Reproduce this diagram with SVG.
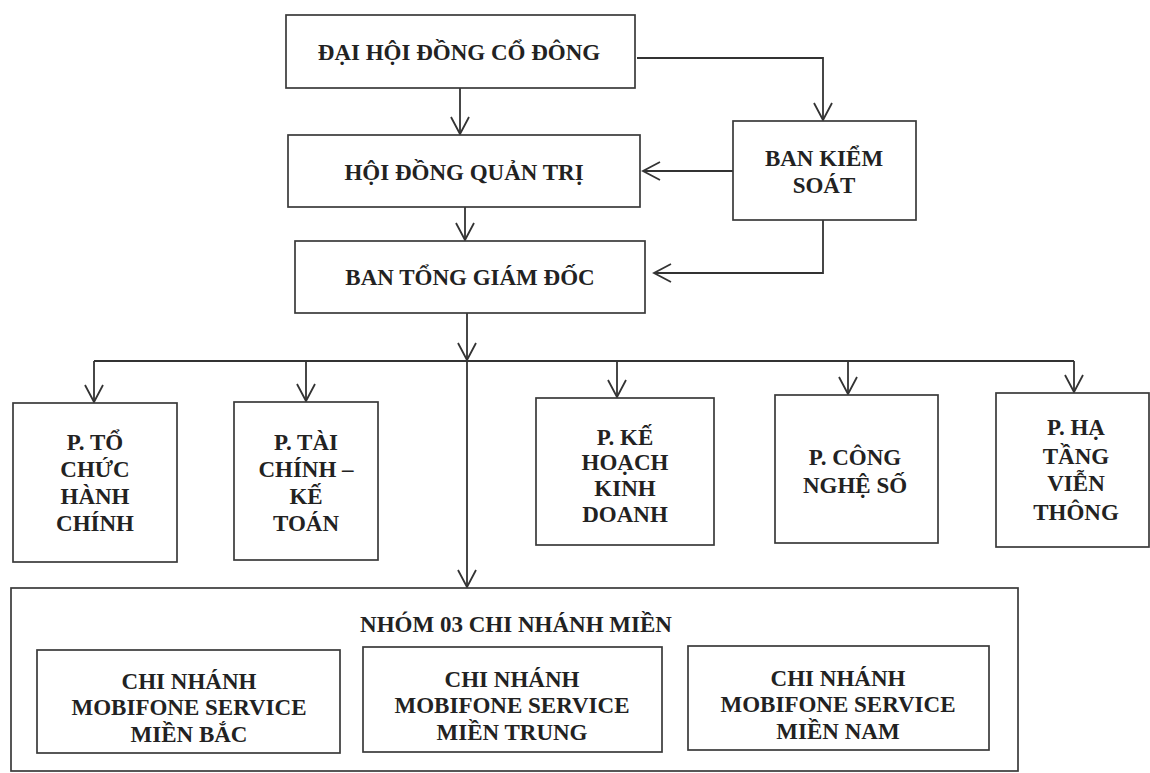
<svg xmlns="http://www.w3.org/2000/svg" width="1150" height="773" viewBox="0 0 1150 773">
<style>
.box{fill:#fff;stroke:#3a3a3a;stroke-width:1.7}
.t{font-family:"Liberation Serif","Times New Roman",serif;font-weight:bold;font-size:23px;fill:#222;text-anchor:middle}
.c{fill:none;stroke:#333;stroke-width:1.8}
</style>
<defs>
<marker id="ah" markerUnits="userSpaceOnUse" markerWidth="24" markerHeight="24" viewBox="-20 -12 24 24" refX="0" refY="0" orient="auto">
<path d="M-17,-9 L0,0 L-17,9" fill="none" stroke="#333" stroke-width="1.8"/>
</marker>
</defs>
<rect width="1150" height="773" fill="#fff"/>
<g id="connectors" class="c">
<path class="c" d="M460,88 V134" marker-end="url(#ah)"/>
<path class="c" d="M637,58 H823 V120" marker-end="url(#ah)"/>
<path class="c" d="M733,171 H643" marker-end="url(#ah)"/>
<path class="c" d="M465,207 V240" marker-end="url(#ah)"/>
<path class="c" d="M823,220 V273 H654" marker-end="url(#ah)"/>
<path class="c" d="M467,313 V360" marker-end="url(#ah)"/>
<path class="c" d="M94,361 H1074"/>
<path class="c" d="M94,361 V402" marker-end="url(#ah)"/>
<path class="c" d="M306,361 V401" marker-end="url(#ah)"/>
<path class="c" d="M617,361 V397" marker-end="url(#ah)"/>
<path class="c" d="M848,361 V394" marker-end="url(#ah)"/>
<path class="c" d="M1074,361 V392" marker-end="url(#ah)"/>
<path class="c" d="M467,361 V587" marker-end="url(#ah)"/>
</g>
<g id="dhdcd">
<rect class="box" x="286" y="15" width="349" height="73"/>
<text class="t" x="459" y="60">ĐẠI HỘI ĐỒNG CỔ ĐÔNG</text>
</g>
<g id="hdqt">
<rect class="box" x="288" y="135" width="352" height="72"/>
<text class="t" x="464" y="180">HỘI ĐỒNG QUẢN TRỊ</text>
</g>
<g id="bks">
<rect class="box" x="733" y="121" width="183" height="99"/>
<text class="t" x="824" y="166">BAN KIỂM</text>
<text class="t" x="824" y="193">SOÁT</text>
</g>
<g id="btgd">
<rect class="box" x="295" y="241" width="350" height="72"/>
<text class="t" x="470" y="285">BAN TỔNG GIÁM ĐỐC</text>
</g>
<g id="p-tchc">
<rect class="box" x="13" y="403" width="164" height="159"/>
<text class="t" x="95" y="450">P. TỔ</text>
<text class="t" x="95" y="477">CHỨC</text>
<text class="t" x="95" y="504">HÀNH</text>
<text class="t" x="95" y="531">CHÍNH</text>
</g>
<g id="p-tckt">
<rect class="box" x="234" y="402" width="144" height="158"/>
<text class="t" x="306" y="450">P. TÀI</text>
<text class="t" x="306" y="477">CHÍNH –</text>
<text class="t" x="306" y="504">KẾ</text>
<text class="t" x="306" y="531">TOÁN</text>
</g>
<g id="p-khkd">
<rect class="box" x="536" y="398" width="178" height="147"/>
<text class="t" x="625" y="445">P. KẾ</text>
<text class="t" x="625" y="470">HOẠCH</text>
<text class="t" x="625" y="496">KINH</text>
<text class="t" x="625" y="522">DOANH</text>
</g>
<g id="p-cns">
<rect class="box" x="775" y="395" width="163" height="148"/>
<text class="t" x="855" y="465">P. CÔNG</text>
<text class="t" x="855" y="493">NGHỆ SỐ</text>
</g>
<g id="p-htvt">
<rect class="box" x="996" y="393" width="153" height="154"/>
<text class="t" x="1076" y="435">P. HẠ</text>
<text class="t" x="1076" y="464">TẦNG</text>
<text class="t" x="1076" y="491">VIỄN</text>
<text class="t" x="1076" y="520">THÔNG</text>
</g>
<g id="nhom-chi-nhanh">
<rect class="box" x="11" y="588" width="1007" height="183"/>
<text class="t" x="516" y="632">NHÓM 03 CHI NHÁNH MIỀN</text>
</g>
<g id="cn-bac">
<rect class="box" x="37" y="650" width="303" height="103"/>
<text class="t" x="189" y="689">CHI NHÁNH</text>
<text class="t" x="189" y="715">MOBIFONE SERVICE</text>
<text class="t" x="189" y="742">MIỀN BẮC</text>
</g>
<g id="cn-trung">
<rect class="box" x="363" y="647" width="299" height="105"/>
<text class="t" x="512" y="687">CHI NHÁNH</text>
<text class="t" x="512" y="713">MOBIFONE SERVICE</text>
<text class="t" x="512" y="740">MIỀN TRUNG</text>
</g>
<g id="cn-nam">
<rect class="box" x="688" y="646" width="301" height="104"/>
<text class="t" x="838" y="686">CHI NHÁNH</text>
<text class="t" x="838" y="712">MOBIFONE SERVICE</text>
<text class="t" x="838" y="739">MIỀN NAM</text>
</g>
</svg>
